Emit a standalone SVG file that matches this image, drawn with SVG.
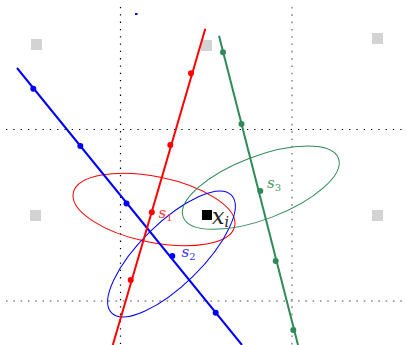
<svg xmlns="http://www.w3.org/2000/svg" width="407" height="345" viewBox="0 0 407 345">
<style>
.bdot{stroke:#000;stroke-width:1.2;stroke-dasharray:1.3 6;fill:none}
.gdot{stroke:#888;stroke-width:1.5;stroke-dasharray:1.6 5.7;fill:none}
.sq{fill:#d3d3d3}
.ln{stroke-width:2;fill:none}
.el{stroke-width:1;fill:none}
.lab{font-family:"DejaVu Serif","Liberation Serif",serif;font-style:italic}
.sub{font-family:"DejaVu Serif","Liberation Serif",serif}
</style>
<rect width="407" height="345" fill="#fff"/>
<g id="grid">
<line class="bdot" x1="120.5" y1="7" x2="120.5" y2="345"/>
<line class="gdot" x1="292" y1="7" x2="292" y2="345"/>
<line class="bdot" x1="6" y1="129.5" x2="407" y2="129.5"/>
<line class="gdot" x1="6" y1="301" x2="407" y2="301"/>
</g>
<g id="squares">
<rect class="sq" x="31" y="39" width="11" height="11"/>
<rect class="sq" x="201" y="40" width="11" height="11"/>
<rect class="sq" x="372" y="33" width="11" height="11"/>
<rect class="sq" x="30" y="210" width="11" height="11"/>
<rect class="sq" x="372" y="210" width="11" height="11"/>
</g>
<rect id="topdot" x="135" y="13" width="2.5" height="2" fill="#00f"/>
<g id="ellipses">
<ellipse id="e1" class="el" stroke="#f00" cx="154" cy="209.5" rx="82.4" ry="32.9" transform="rotate(11.6 154 209.5)"/>
<ellipse id="e2" class="el" stroke="#00f" cx="171.5" cy="254" rx="84" ry="31" transform="rotate(-44.5 171.5 254)"/>
<ellipse id="e3" class="el" stroke="#2e8b57" cx="260.8" cy="187.7" rx="83" ry="31.5" transform="rotate(-20.8 260.8 187.7)"/>
</g>
<g id="connectors">
<line class="ln" stroke="#00f" x1="17" y1="68" x2="242" y2="345"/>
<line class="ln" stroke="#f00" x1="205.3" y1="28.7" x2="112.8" y2="345"/>
<line class="ln" stroke="#2e8b57" x1="219" y1="35.7" x2="298" y2="345"/>
</g>
<g id="s1" fill="#f00">
<circle cx="191" cy="73.3" r="3"/>
<circle cx="170.3" cy="145" r="3"/>
<circle cx="151.8" cy="212.3" r="3"/>
<circle cx="130.7" cy="280" r="3"/>
<text class="lab" x="158.5" y="217.5" font-size="15" fill="#f33">s<tspan class="sub" font-style="normal" font-size="10" dy="3.5">1</tspan></text>
</g>
<g id="s2" fill="#00f">
<circle cx="33.3" cy="88.7" r="3"/>
<circle cx="80.3" cy="146" r="3"/>
<circle cx="126.5" cy="203.5" r="3"/>
<circle cx="172.3" cy="256" r="3"/>
<circle cx="215.7" cy="312.7" r="3"/>
<text class="lab" x="181.5" y="256.5" font-size="15" fill="#33f">s<tspan class="sub" font-style="normal" font-size="10" dy="3.5">2</tspan></text>
</g>
<g id="s3" fill="#2e8b57">
<circle cx="223" cy="52.3" r="3"/>
<circle cx="241.5" cy="124" r="3"/>
<circle cx="260.3" cy="191" r="3"/>
<circle cx="275.7" cy="261" r="3"/>
<circle cx="293.3" cy="330" r="3"/>
<text class="lab" x="267" y="187.5" font-size="15" fill="#4a9a6a">s<tspan class="sub" font-style="normal" font-size="10" dy="3.5">3</tspan></text>
</g>
<g id="xi">
<rect x="202" y="210" width="10" height="10" fill="#000"/>
<text class="lab" x="212" y="223.5" font-size="22" fill="#222">x<tspan font-size="14" dy="3">i</tspan></text>
</g>
</svg>
